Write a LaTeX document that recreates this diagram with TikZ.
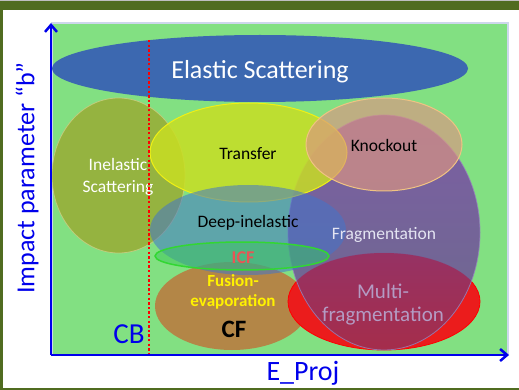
\documentclass[tikz,border=0pt]{standalone}
\usepackage{fontspec}
\setmainfont{Carlito}
\usetikzlibrary{arrows.meta}
\definecolor{framegreen}{RGB}{80,108,32}
\definecolor{plotgreen}{RGB}{130,224,130}
\definecolor{plotedge}{RGB}{205,215,235}
\definecolor{axisblue}{RGB}{0,0,235}
\definecolor{elasticblue}{RGB}{60,104,176}
\definecolor{olive}{RGB}{153,172,53}
\definecolor{olivedge}{RGB}{205,205,130}
\definecolor{transferfill}{RGB}{200,222,35}
\definecolor{transferedge}{RGB}{240,240,20}
\definecolor{knockfill}{RGB}{220,150,130}
\definecolor{knockedge}{RGB}{240,195,130}
\definecolor{fragtop}{RGB}{124,88,166}
\definecolor{fragbottom}{RGB}{108,100,142}
\definecolor{fragedge}{RGB}{150,130,190}
\definecolor{overlaptop}{RGB}{150,50,100}
\definecolor{overlapbottom}{RGB}{165,45,75}
\definecolor{deepfill}{RGB}{66,117,203}
\definecolor{icffill}{RGB}{60,200,90}
\definecolor{icfedge}{RGB}{50,215,50}
\definecolor{cffill}{RGB}{185,125,65}
\definecolor{multifill}{RGB}{235,28,28}
\definecolor{icftext}{RGB}{232,85,85}
\definecolor{multitext}{RGB}{180,155,195}
\definecolor{fragtext}{RGB}{228,228,242}
\tikzset{
  region/.style={line width=0.8pt},
  label/.style={font=\fontsize{17.5}{19.5}\selectfont, align=center, inner sep=0pt},
  axis/.style={draw=axisblue, line width=2.5pt, -{Straight Barb[length=7pt,width=12pt]}},
  barrier/.style={draw=red, line width=2.6pt, dash pattern=on 2.4pt off 2.2pt},
  fragshape/.style={x radius=96pt, y radius=117.5pt},
  multishape/.style={x radius=96pt, y radius=48.5pt}
}
\begin{document}
\begin{tikzpicture}[x=1pt,y=-1pt]
\useasboundingbox (0,0) rectangle (519,390);
\fill[white] (0,0) rectangle (519,390);

% outer frame: heavy top band, thin left and bottom rules
\fill[black!25] (0,0) rectangle (519,1.5);
\fill[framegreen] (0,1.5) rectangle (519,10);
\fill[framegreen] (0,1.5) rectangle (2.5,390);
\fill[framegreen] (0,387.5) rectangle (519,390);

% plot area
\fill[plotgreen, draw=plotedge, line width=1.5pt] (52,23) rectangle (508,355);

% reaction regions
\fill[elasticblue] (260,68.5) ellipse [x radius=208pt, y radius=33.5pt];
\filldraw[region, fill=olive, fill opacity=0.85, draw=olivedge, draw opacity=0.8]
  (118.5,175.5) ellipse [x radius=66.5pt, y radius=77.5pt];
\fill[cffill, fill opacity=0.9] (232,306) ellipse [x radius=77pt, y radius=44pt];
\filldraw[region, fill=multifill, draw=red] (384,301.5) ellipse [multishape];
\shade[top color=fragtop, bottom color=fragbottom, opacity=0.95]
  (384,232.5) ellipse [fragshape];
% where fragmentation and multifragmentation meet
\begin{scope}
  \clip (384,232.5) ellipse [fragshape];
  \shade[top color=overlaptop, bottom color=overlapbottom] (384,301.5) ellipse [multishape];
\end{scope}
\draw[region, draw=fragedge, draw opacity=0.8] (384,232.5) ellipse [fragshape];
\filldraw[region, fill=transferfill, fill opacity=0.85, draw=transferedge, line width=1pt]
  (248.5,152.5) ellipse [x radius=98.5pt, y radius=49.5pt];
\filldraw[region, fill=knockfill, fill opacity=0.67, draw=knockedge, line width=1pt]
  (384,144.5) ellipse [x radius=78pt, y radius=46.5pt];
\fill[deepfill, fill opacity=0.55] (248,230) ellipse [x radius=98pt, y radius=45pt];
\filldraw[fill=icffill, fill opacity=0.5, draw=icfedge, line width=1.5pt]
  (242,256) ellipse [x radius=87pt, y radius=14pt];

% labels
\node[label, text=white, font=\fontsize{26}{28}\selectfont] (elastic) at (260,72) {Elastic Scattering};
\node[label, text=white] (inelastic) at (118,177) {Inelastic\\[2pt]Scattering};
\node[label] (transfer) at (248,154) {Transfer};
\node[label] (knockout) at (384,145) {Knockout};
\node[label] (deep) at (248,223) {Deep-inelastic};
\node[label, text=fragtext] (frag) at (384,235) {Fragmentation};
\node[label, text=icftext, font=\bfseries\fontsize{18}{20}\selectfont] (icf) at (243,258) {ICF};
\node[label, text=yellow, font=\bfseries\fontsize{17}{20}\selectfont] (fusion) at (233,292) {Fusion-\\evaporation};
\node[label, font=\bfseries\fontsize{25}{27}\selectfont] (cf) at (234,329) {CF};
\node[label, text=multitext, font=\fontsize{21}{23}\selectfont] (multi) at (383,305) {Multi-\\fragmentation};

% Coulomb barrier
\coordinate (cbtop) at (149,40);
\coordinate (cbbot) at (149,355);
\draw[barrier] (cbtop) -- (cbbot);
\node[label, text=axisblue, font=\fontsize{29}{31}\selectfont] (cb) at (129,334) {CB};

% axes
\coordinate (origin) at (51,355);
\coordinate (ytip) at (51,23);
\coordinate (xtip) at (509,355);
\draw[axis] (origin) -- (ytip);
\draw[axis] (origin) -- (xtip);
\node[label, text=axisblue, font=\fontsize{28}{30}\selectfont] (xlabel) at (303,373) {E\_Proj};
\node[label, text=axisblue, font=\fontsize{26}{28}\selectfont, rotate=90] (ylabel) at (27,178) {Impact parameter “b”};
\end{tikzpicture}
\end{document}
